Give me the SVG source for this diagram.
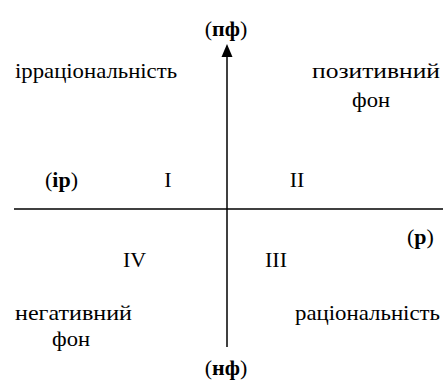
<svg xmlns="http://www.w3.org/2000/svg" width="443" height="382" viewBox="0 0 443 382">
<style>
text{font-family:"Liberation Serif","Tinos","DejaVu Serif","Noto Serif","FreeSerif","Times New Roman",serif;font-size:22px;fill:#000}
.b{font-weight:bold}
.ax{stroke:#000;stroke-width:1.5;fill:none}
</style>
<rect width="443" height="382" fill="#fff"/>
<g id="connectors">
<line class="ax" x1="14" y1="209" x2="443" y2="209"/>
<line class="ax" x1="227" y1="54" x2="227" y2="347"/>
<polygon points="227,44 221.5,57 232.5,57" fill="#000"/>
</g>
<g id="top"><text x="226" y="36" text-anchor="middle">(<tspan class="b">пф</tspan>)</text></g>
<g id="bottom"><text x="226" y="375" text-anchor="middle">(<tspan class="b">нф</tspan>)</text></g>
<g id="left"><text x="45" y="187">(<tspan class="b">ір</tspan>)</text></g>
<g id="right"><text x="407" y="244">(<tspan class="b">р</tspan>)</text></g>
<g id="q1"><text x="168" y="187" text-anchor="middle">I</text></g>
<g id="q2"><text x="297" y="187" text-anchor="middle">II</text></g>
<g id="q3"><text x="276" y="267" text-anchor="middle">III</text></g>
<g id="q4"><text x="134.5" y="267" text-anchor="middle">IV</text></g>
<g id="irr"><text x="15" y="78" textLength="162" lengthAdjust="spacingAndGlyphs">ірраціональність</text></g>
<g id="pos"><text x="312" y="78" textLength="128" lengthAdjust="spacingAndGlyphs">позитивний</text><text x="352" y="107" textLength="38" lengthAdjust="spacingAndGlyphs">фон</text></g>
<g id="neg"><text x="15" y="320" textLength="117" lengthAdjust="spacingAndGlyphs">негативний</text><text x="52" y="346" textLength="38" lengthAdjust="spacingAndGlyphs">фон</text></g>
<g id="rat"><text x="295" y="320" textLength="145" lengthAdjust="spacingAndGlyphs">раціональність</text></g>
</svg>
